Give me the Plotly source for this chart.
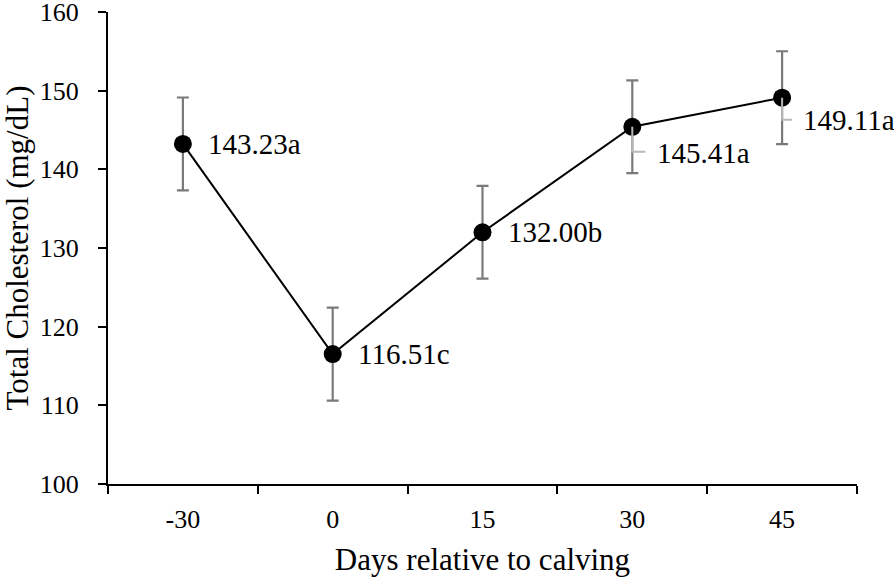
import plotly.graph_objects as go

days = ["-30", "0", "15", "30", "45"]
means = [143.23, 116.51, 132.00, 145.41, 149.11]
errors = [5.9, 5.9, 5.9, 5.9, 5.9]
labels = ["143.23a", "116.51c", "132.00b", "145.41a", "149.11a"]
y_ticks = [100, 110, 120, 130, 140, 150, 160]

FONT = "Liberation Serif"

fig = go.Figure()
fig.add_trace(go.Scatter(
    x=days, y=means,
    mode="lines+markers",
    line=dict(color="black", width=2),
    marker=dict(color="black", size=18),
    error_y=dict(type="data", array=errors, visible=True, color="#7a7a7a", thickness=2.2, width=6),
    showlegend=False,
))

# Data labels (pixel offsets from each point)
offsets = [(23, 0), (23, 0), (23, 0), (23, -26), (19, -22)]
for i, (m, lab) in enumerate(zip(means, labels)):
    dx, dy = offsets[i]
    fig.add_annotation(x=i, y=m, text=lab, showarrow=False, xanchor="left", yanchor="middle",
                       xshift=dx, yshift=dy, font=dict(family=FONT, size=29, color="black"))

# Leader lines for the last two labels
for i, dy, dx in [(3, 25, 13), (4, 22, 10)]:
    fig.add_shape(type="path", xref="x", yref="y", xsizemode="pixel", ysizemode="pixel",
                  xanchor=i, yanchor=means[i],
                  path=f"M 0 0 L 0 {-dy} L {dx} {-dy}",
                  line=dict(color="#b8b8b8", width=2), layer="above")

fig.update_layout(
    width=894, height=578,
    margin=dict(l=108, r=37, t=12, b=94),
    plot_bgcolor="white", paper_bgcolor="white",
    font=dict(family=FONT, size=26, color="black"),
    xaxis=dict(
        type="category",
        showline=True, linecolor="black", linewidth=2,
        ticks="outside", ticklen=8, tickwidth=2, tickcolor="black",
        tickson="boundaries",
        showgrid=False, zeroline=False,
        tickfont=dict(family=FONT, size=26),
        ticklabelstandoff=11,
        automargin=False,
        title=dict(text="Days relative to calving", font=dict(family=FONT, size=31), standoff=15),
        range=[-0.5, 4.5],
    ),
    yaxis=dict(
        range=[100, 160], tickmode="array", tickvals=y_ticks,
        ticktext=[str(v) for v in y_ticks],
        showline=True, linecolor="black", linewidth=2,
        ticks="outside", ticklen=8, tickwidth=2, tickcolor="black",
        showgrid=False, zeroline=False,
        tickfont=dict(family=FONT, size=26),
        ticklabelstandoff=14,
        ticklabeloverflow="allow",
        automargin=False,
        title=dict(text="Total Cholesterol (mg/dL)", font=dict(family=FONT, size=31), standoff=27),
    ),
)

fig.write_html("out.html", config={"displayModeBar": False},
               post_script="document.body.style.margin='0';")
